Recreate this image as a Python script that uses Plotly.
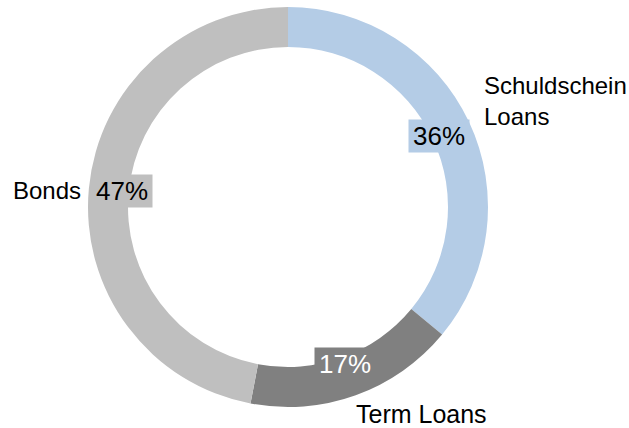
import math
import plotly.graph_objects as go

labels = ["Schuldschein<br>Loans", "Term Loans", "Bonds"]
values = [36, 17, 47]
colors = ["#b4cce6", "#808080", "#bfbfbf"]
pct_colors = ["#000000", "#ffffff", "#000000"]

W, H = 629, 428
cx, cy = 288, 207   # donut centre in pixels
r_out = 200
r_lab = 167

fig = go.Figure(go.Pie(
    labels=labels,
    values=values,
    hole=0.8,
    sort=False,
    direction="clockwise",
    rotation=0,
    marker=dict(colors=colors, line=dict(width=0)),
    textinfo="none",
    hoverinfo="label+percent",
    domain=dict(x=[(cx - r_out) / W, (cx + r_out) / W],
                y=[1 - (cy + r_out) / H, 1 - (cy - r_out) / H]),
))

# percentage boxes on the ring, at each slice's mid angle
total = sum(values)
start = 0
for v, c, tc in zip(values, colors, pct_colors):
    mid = (start + v / 2) / total * 2 * math.pi
    start += v
    px = cx + r_lab * math.sin(mid)
    py = cy - r_lab * math.cos(mid)
    fig.add_annotation(
        x=px / W, y=1 - py / H, xref="paper", yref="paper",
        xanchor="center", yanchor="middle",
        text=f"{round(v / total * 100)}%", showarrow=False,
        font=dict(size=26, color=tc),
        bgcolor=c, width=58, height=30,
    )

# category labels outside the ring
fig.add_annotation(x=482 / W, y=1 - 101 / H, xref="paper", yref="paper",
                   text="Schuldschein<br>Loans", showarrow=False, align="left",
                   xanchor="left", yanchor="middle")
fig.add_annotation(x=11 / W, y=1 - 190 / H, xref="paper", yref="paper",
                   text="Bonds", showarrow=False, xanchor="left", yanchor="middle")
fig.add_annotation(x=354 / W, y=1 - 414 / H, xref="paper", yref="paper",
                   text="Term Loans", showarrow=False, xanchor="left", yanchor="middle",
                   font=dict(size=25))

fig.update_layout(
    width=W, height=H,
    margin=dict(l=0, r=0, t=0, b=0),
    showlegend=False,
    paper_bgcolor="white",
    font=dict(family="Liberation Sans, Arial", size=24, color="#000000"),
)

# the default page keeps an 8px body margin; drop it so the chart sits at 0,0
fig.write_html("out.html", config={"displayModeBar": False},
               post_script="document.body.style.margin='0';")
